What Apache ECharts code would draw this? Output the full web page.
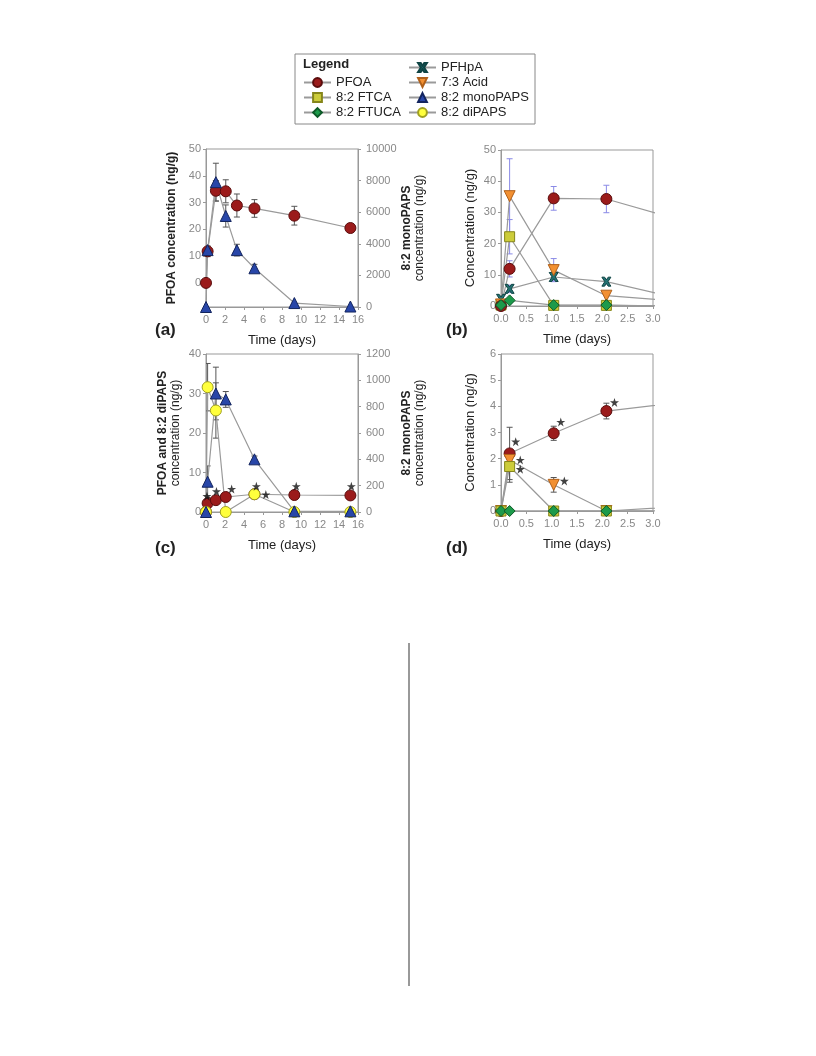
<!DOCTYPE html>
<html><head><meta charset="utf-8">
<script src="https://cdn.jsdelivr.net/npm/echarts@6/dist/echarts.min.js"></script>
<style>html,body{margin:0;padding:0;background:#fff}#c{width:816px;height:1056px}</style>
</head><body><div id="c"></div>
<script>
// ---------- legend ----------
const legendCol1 = ['PFOA', '8:2 FTCA', '8:2 FTUCA'];
const legendCol2 = ['PFHpA', '7:3 Acid', '8:2 monoPAPS', '8:2 diPAPS'];

// ---------- panel (a) ----------
const daysA = [0, 0.17, 1.04, 2.08, 3.25, 5.1, 9.3, 15.2];
const pfoaA = [0, 11.8, 34.4, 34.2, 28.9, 27.8, 25.1, 20.5];
const pfoaAErr = [0, 2, 3.8, 4.3, 4.3, 3.3, 3.5, 1.5];
const monoA = [0, 3600, 7900, 5760, 3600, 2450, 250, 30];
const monoAErr = [0, 0, 1200, 700, 370, 250, 0, 0];
const ticksAleft = [0, 10, 20, 30, 40, 50];

// ---------- panel (b) ----------
const daysB = [0, 0.17, 1.04, 2.08, 3.25];
const pfoaB = [0, 11.9, 34.5, 34.3, 28.9];
const pfoaBErr = [0, 2.6, 3.8, 4.4, 0];
const ftcaB = [0.3, 22.2, 0.2, 0.2, 0];
const ftcaBErr = [0, 5.5, 0, 0, 0];
const ftucaB = [0.3, 1.8, 0.3, 0.3, 0];
const pfhpaB = [2.3, 5.5, 9.3, 7.8, 3.4];
const pfhpaBErr = [0, 1.2, 0.8, 0.7, 0];
const acid73B = [0.5, 35.2, 11.5, 3.3, 1.9];
const acid73BErr = [0, 12, 3.7, 0, 0];

// ---------- panel (c) ----------
const daysC = [0, 0.17, 1.04, 2.08, 5.1, 9.3, 15.2];
const pfoaC = [0, 2.2, 3.0, 3.8, 4.5, 4.3, 4.2];
const dipapsC = [0, 31.6, 25.7, 0, 4.5, 0, 0];
const dipapsCErr = [0, 6, 7, 0, 0.6, 0, 0];
const monoC = [0, 230, 900, 855, 400, 5, 5];
const monoCErr = [0, 120, 200, 60, 25, 0, 0];
const starsC = [[0.1, 4.0], [1.1, 5.2], [2.7, 5.8], [5.3, 6.5], [6.3, 4.4], [9.5, 6.5], [15.3, 6.5]];

// ---------- panel (d) ----------
const daysD = [0, 0.17, 1.04, 2.08, 5.1];
const pfoaD = [0, 2.2, 2.97, 3.82, 4.5];
const pfoaDErr = [0, 1.0, 0.27, 0.3, 0];
const acid73D = [0, 1.95, 1.0, 0, 0.35];
const acid73DErr = [0, 0.1, 0.28, 0, 0];
const ftcaD = [0, 1.7, 0, 0, 0];
const ftcaDErr = [0, 0.6, 0, 0, 0];
const ftucaD = [0, 0, 0, 0, 0];
const starsD = [[0.29, 2.65], [0.38, 1.95], [0.38, 1.6], [1.18, 3.4], [1.25, 1.15], [2.24, 4.15]];

const FONT = '"Liberation Sans", Arial, sans-serif';
const STAR = 'path://M5,0 L6.2,3.6 L10,3.6 L6.9,5.8 L8.1,9.5 L5,7.2 L1.9,9.5 L3.1,5.8 L0,3.6 L3.8,3.6 Z';
const STY = {
  'PFOA': {symbol: 'circle', size: 11, color: '#9b1b1b', border: '#5a0c0c'},
  '8:2 FTCA': {symbol: 'rect', size: 10, color: '#cccc3a', border: '#85851a'},
  '8:2 FTUCA': {symbol: 'diamond', size: 11, color: '#1c9a4a', border: '#0d5a28'},
  'PFHpA': {symbol: 'path://M0,0 L3,0 L5,3 L7,0 L10,0 L6.8,5 L10,10 L7,10 L5,7 L3,10 L0,10 L3.2,5 Z', size: 9, color: '#247272', border: '#0f4444'},
  '7:3 Acid': {symbol: 'path://M0,0 L10,0 L5,9 Z', size: 11, color: '#f29032', border: '#b0601a'},
  '8:2 monoPAPS': {symbol: 'triangle', size: 11, color: '#2846a8', border: '#12245e'},
  '8:2 diPAPS': {symbol: 'circle', size: 11, color: '#ffff3c', border: '#a0a020'}
};

function pts(days, vals) { return days.map((d, i) => [d, vals[i]]); }
function errs(days, vals, e) {
  const out = [];
  days.forEach((d, i) => { if (e[i] > 0) out.push([d, vals[i] - e[i], vals[i] + e[i]]); });
  return out;
}
function line(name, xi, yi, days, vals) {
  const s = STY[name];
  return {
    type: 'line', name, xAxisIndex: xi, yAxisIndex: yi, data: pts(days, vals),
    symbol: s.symbol, symbolSize: s.size, showAllSymbol: true,
    itemStyle: {color: s.color, borderColor: s.border, borderWidth: 1},
    lineStyle: {color: '#9a9a9a', width: 1.2},
    emphasis: {disabled: true}, clip: true, z: 4, animation: false
  };
}
function errSeries(xi, yi, data, color) {
  return {
    type: 'custom', xAxisIndex: xi, yAxisIndex: yi, data, clip: true, z: 3, silent: true,
    itemStyle: {color}, encode: {x: 0, y: [1, 2]}, animation: false,
    renderItem: (p, api) => {
      const x = api.value(0);
      const t = api.coord([x, api.value(2)]);
      const b = api.coord([x, api.value(1)]);
      const st = {stroke: color, lineWidth: 1};
      const w = 3;
      return {type: 'group', children: [
        {type: 'line', shape: {x1: t[0], y1: t[1], x2: b[0], y2: b[1]}, style: st},
        {type: 'line', shape: {x1: t[0] - w, y1: t[1], x2: t[0] + w, y2: t[1]}, style: st},
        {type: 'line', shape: {x1: b[0] - w, y1: b[1], x2: b[0] + w, y2: b[1]}, style: st}
      ]};
    }
  };
}
function stars(xi, yi, data) {
  return {type: 'scatter', xAxisIndex: xi, yAxisIndex: yi, data, symbol: STAR, symbolSize: 9,
    itemStyle: {color: '#111'}, silent: true, z: 6, clip: true, animation: false};
}

const axisBase = () => ({
  type: 'value', splitLine: {show: false},
  axisLine: {show: true, onZero: false, lineStyle: {color: '#999', width: 1}},
  axisTick: {show: true, length: 3, lineStyle: {color: '#999'}},
  axisLabel: {color: '#888', fontSize: 11, fontFamily: FONT, margin: 5, formatter: v => String(v)}
});
function xAx(gi, max, interval, dec) {
  const a = axisBase();
  a.gridIndex = gi; a.min = 0; a.max = max; a.interval = interval;
  a.axisLabel.margin = 7;
  if (dec) a.axisLabel.formatter = v => v.toFixed(1);
  a.name = 'Time (days)'; a.nameLocation = 'middle'; a.nameGap = 27;
  a.nameTextStyle = {fontSize: 13, color: '#222', fontFamily: FONT};
  return a;
}
function yAx(gi, min, max, interval, pos, name, gap, rich) {
  const a = axisBase();
  a.gridIndex = gi; a.min = min; a.max = max; a.interval = interval; a.position = pos;
  if (pos === 'right') a.axisLabel.margin = 8;
  a.name = name; a.nameLocation = 'middle'; a.nameRotate = 90; a.nameGap = gap;
  a.nameTextStyle = {fontSize: 12, color: '#222', fontFamily: FONT, lineHeight: 13,
    rich: rich ? {b: {fontWeight: 'bold', fontSize: 12, fontFamily: FONT, color: '#222', lineHeight: 13},
                  n: {fontSize: 12, fontFamily: FONT, color: '#222', lineHeight: 13}} : undefined};
  return a;
}

const yA0 = yAx(0, -9, 50, null, 'left', 'PFOA concentration (ng/g)', 28, false);
delete yA0.interval;
yA0.axisLabel.customValues = ticksAleft;
yA0.axisTick.customValues = ticksAleft;
yA0.nameTextStyle.fontWeight = 'bold';
const yA1 = yAx(0, 0, 10000, 2000, 'right', '{b|8:2 monoPAPS}\n{n|concentration (ng/g)}', 42, true);
const yB = yAx(1, 0, 50, 10, 'left', 'Concentration (ng/g)', 24, false);
yB.nameTextStyle.fontSize = 13;
const yC0 = yAx(2, 0, 40, 10, 'left', '{b|PFOA and 8:2 diPAPS}\n{n|concentration (ng/g)}', 24, true);
const yC1 = yAx(2, 0, 1200, 200, 'right', '{b|8:2 monoPAPS}\n{n|concentration (ng/g)}', 42, true);
const yD = yAx(3, 0, 6, 1, 'left', 'Concentration (ng/g)', 24, false);
yD.nameTextStyle.fontSize = 13;

const gridBase = {show: true, borderColor: '#999', borderWidth: 1, backgroundColor: 'transparent', containLabel: false};

const legendBase = {
  orient: 'vertical', itemWidth: 27, itemHeight: 11, itemGap: 2, padding: 0,
  selectedMode: false, textStyle: {fontSize: 13, color: '#222', fontFamily: FONT}
};

const ERR_DARK = '#555';
const ERR_BLUE = '#8a8ae6';

const option = {
  animation: false,
  backgroundColor: '#fff',
  textStyle: {fontFamily: FONT},
  grid: [
    Object.assign({left: 206, top: 149, width: 152, height: 158}, gridBase),
    Object.assign({left: 501, top: 150, width: 152, height: 156}, gridBase),
    Object.assign({left: 206, top: 354, width: 152, height: 158}, gridBase),
    Object.assign({left: 501, top: 354, width: 152, height: 157}, gridBase)
  ],
  xAxis: [xAx(0, 16, 2, false), xAx(1, 3, 0.5, true), xAx(2, 16, 2, false), xAx(3, 3, 0.5, true)],
  yAxis: [yA0, yA1, yB, yC0, yC1, yD],
  legend: [
    Object.assign({data: legendCol1, left: 303, top: 76}, legendBase),
    Object.assign({data: legendCol2, left: 408, top: 61}, legendBase)
  ],
  graphic: [
    {type: 'rect', shape: {x: 295, y: 54, width: 240, height: 70}, style: {fill: 'none', stroke: '#888', lineWidth: 1}, silent: true},
    {type: 'text', left: 303, top: 58, style: {text: 'Legend', font: 'bold 13px ' + FONT, fill: '#222'}, silent: true},
    {type: 'text', left: 155, top: 322, style: {text: '(a)', font: 'bold 17px ' + FONT, fill: '#222'}, silent: true},
    {type: 'text', left: 446, top: 322, style: {text: '(b)', font: 'bold 17px ' + FONT, fill: '#222'}, silent: true},
    {type: 'text', left: 155, top: 540, style: {text: '(c)', font: 'bold 17px ' + FONT, fill: '#222'}, silent: true},
    {type: 'text', left: 446, top: 540, style: {text: '(d)', font: 'bold 17px ' + FONT, fill: '#222'}, silent: true},
    {type: 'line', shape: {x1: 409, y1: 643, x2: 409, y2: 986}, style: {stroke: '#777', lineWidth: 1.5}, silent: true}
  ],
  series: [
    // (a)
    errSeries(0, 0, errs(daysA, pfoaA, pfoaAErr), ERR_DARK),
    errSeries(0, 1, errs(daysA, monoA, monoAErr), ERR_DARK),
    line('PFOA', 0, 0, daysA, pfoaA),
    line('8:2 monoPAPS', 0, 1, daysA, monoA),
    // (b)
    errSeries(1, 2, errs(daysB, pfoaB, pfoaBErr), ERR_BLUE),
    errSeries(1, 2, errs(daysB, ftcaB, ftcaBErr), ERR_BLUE),
    errSeries(1, 2, errs(daysB, pfhpaB, pfhpaBErr), ERR_BLUE),
    errSeries(1, 2, errs(daysB, acid73B, acid73BErr), ERR_BLUE),
    line('8:2 FTCA', 1, 2, daysB, ftcaB),
    line('PFHpA', 1, 2, daysB, pfhpaB),
    line('7:3 Acid', 1, 2, daysB, acid73B),
    line('PFOA', 1, 2, daysB, pfoaB),
    line('8:2 FTUCA', 1, 2, daysB, ftucaB),
    // (c)
    errSeries(2, 3, errs(daysC, dipapsC, dipapsCErr), ERR_DARK),
    errSeries(2, 4, errs(daysC, monoC, monoCErr), ERR_DARK),
    line('PFOA', 2, 3, daysC, pfoaC),
    line('8:2 diPAPS', 2, 3, daysC, dipapsC),
    line('8:2 monoPAPS', 2, 4, daysC, monoC),
    stars(2, 3, starsC),
    // (d)
    errSeries(3, 5, errs(daysD, pfoaD, pfoaDErr), ERR_DARK),
    errSeries(3, 5, errs(daysD, acid73D, acid73DErr), ERR_DARK),
    errSeries(3, 5, errs(daysD, ftcaD, ftcaDErr), ERR_DARK),
    line('PFOA', 3, 5, daysD, pfoaD),
    line('7:3 Acid', 3, 5, daysD, acid73D),
    line('8:2 FTCA', 3, 5, daysD, ftcaD),
    line('8:2 FTUCA', 3, 5, daysD, ftucaD),
    stars(3, 5, starsD)
  ]
};

const chart = echarts.init(document.getElementById('c'), null, {renderer: 'canvas'});
chart.setOption(option);
</script></body></html>
